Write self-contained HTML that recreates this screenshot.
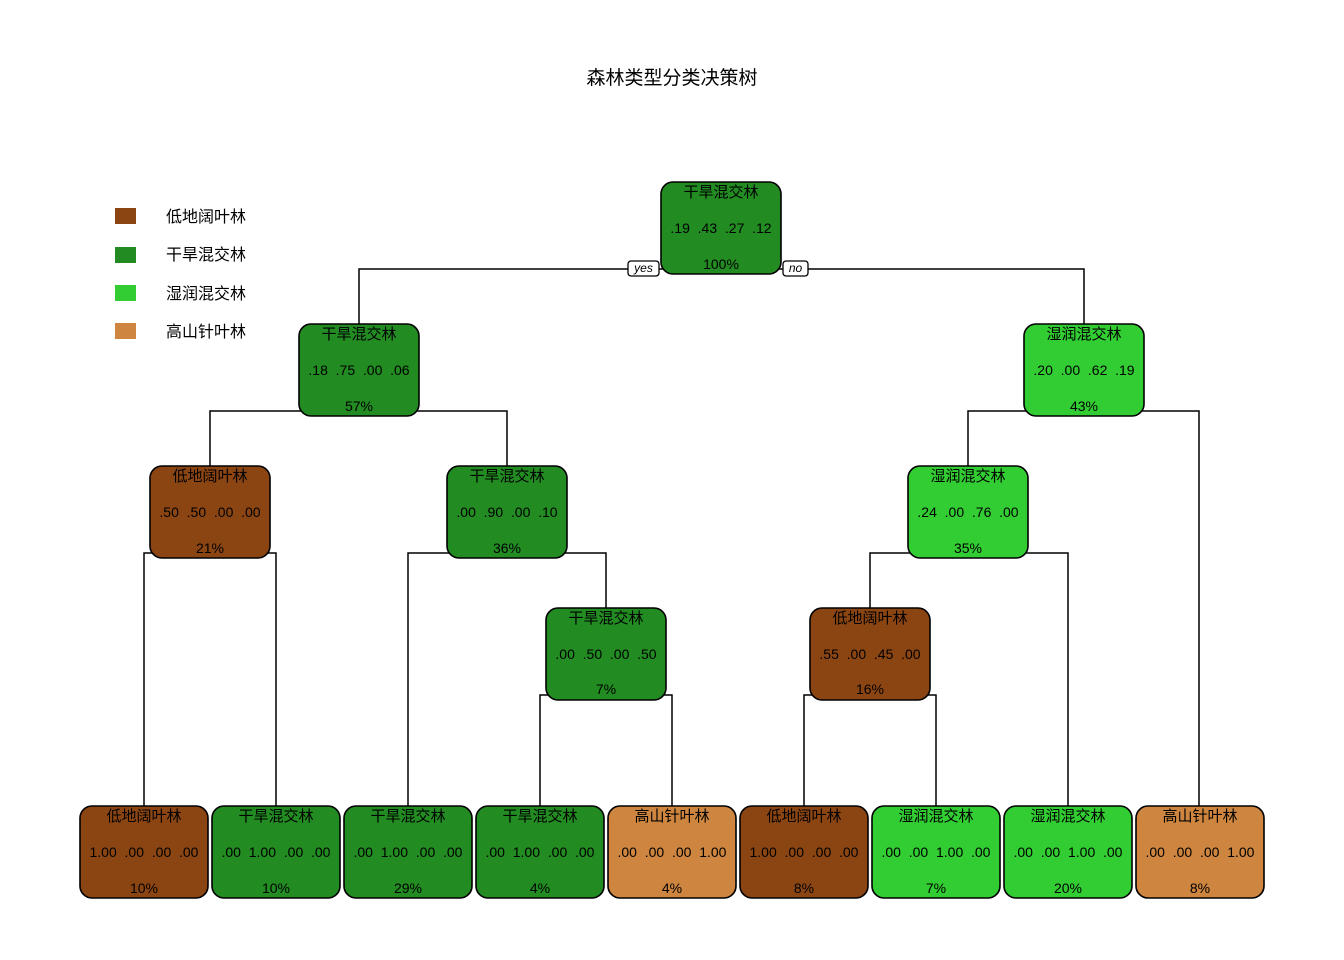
<!DOCTYPE html>
<html><head><meta charset="utf-8"><style>
html,body{margin:0;padding:0;background:#fff;}
svg{display:block;font-family:"Liberation Sans","Noto Sans CJK SC",sans-serif;}
svg text{white-space:pre;}
.n{stroke:#000;stroke-width:1.6;}
.t{font-size:14px;text-anchor:middle;fill:#000;}
.h{font-size:15px;}
.l{stroke:#000;stroke-width:1.5;fill:none;}
.lg{font-size:16px;}
</style></head><body>
<svg width="1344" height="960" viewBox="0 0 1344 960">
<text x="672" y="84" style="font-size:19px;text-anchor:middle">森林类型分类决策树</text>
<rect x="115" y="208" width="21" height="16" fill="#8B4513"/><text class="lg" x="166" y="222">低地阔叶林</text>
<rect x="115" y="247" width="21" height="16" fill="#228B22"/><text class="lg" x="166" y="260">干旱混交林</text>
<rect x="115" y="285" width="21" height="16" fill="#32CD32"/><text class="lg" x="166" y="299">湿润混交林</text>
<rect x="115" y="323" width="21" height="16" fill="#CD853F"/><text class="lg" x="166" y="337">高山针叶林</text>
<path class="l" d="M359 324V269H1084V324"/>
<path class="l" d="M210 466V411H507V466"/>
<path class="l" d="M968 466V411H1199V806"/>
<path class="l" d="M144 806V553H276V806"/>
<path class="l" d="M408 806V553H606V608"/>
<path class="l" d="M870 608V553H1068V806"/>
<path class="l" d="M540 806V695H672V806"/>
<path class="l" d="M804 806V695H936V806"/>
<g>
<rect class="n" x="661" y="182" width="120" height="92" rx="12" fill="#228B22"/>
<text class="t h" x="721" y="197">干旱混交林</text><text class="t" x="721" y="233">.19  .43  .27  .12</text><text class="t" x="721" y="269">100%</text>
<rect x="628" y="261" width="31" height="15" rx="3" fill="#fff" stroke="#000" stroke-width="1.3"/><text x="643.5" y="272" style="font-size:12px;font-style:italic;text-anchor:middle">yes</text>
<rect x="783" y="261" width="25" height="15" rx="3" fill="#fff" stroke="#000" stroke-width="1.3"/><text x="795.5" y="272" style="font-size:12px;font-style:italic;text-anchor:middle">no</text>
</g>
<rect class="n" x="299" y="324" width="120" height="92" rx="12" fill="#228B22"/>
<text class="t h" x="359" y="339">干旱混交林</text><text class="t" x="359" y="375">.18  .75  .00  .06</text><text class="t" x="359" y="411">57%</text>
<rect class="n" x="1024" y="324" width="120" height="92" rx="12" fill="#32CD32"/>
<text class="t h" x="1084" y="339">湿润混交林</text><text class="t" x="1084" y="375">.20  .00  .62  .19</text><text class="t" x="1084" y="411">43%</text>
<rect class="n" x="150" y="466" width="120" height="92" rx="12" fill="#8B4513"/>
<text class="t h" x="210" y="481">低地阔叶林</text><text class="t" x="210" y="517">.50  .50  .00  .00</text><text class="t" x="210" y="553">21%</text>
<rect class="n" x="447" y="466" width="120" height="92" rx="12" fill="#228B22"/>
<text class="t h" x="507" y="481">干旱混交林</text><text class="t" x="507" y="517">.00  .90  .00  .10</text><text class="t" x="507" y="553">36%</text>
<rect class="n" x="908" y="466" width="120" height="92" rx="12" fill="#32CD32"/>
<text class="t h" x="968" y="481">湿润混交林</text><text class="t" x="968" y="517">.24  .00  .76  .00</text><text class="t" x="968" y="553">35%</text>
<rect class="n" x="546" y="608" width="120" height="92" rx="12" fill="#228B22"/>
<text class="t h" x="606" y="623">干旱混交林</text><text class="t" x="606" y="659">.00  .50  .00  .50</text><text class="t" x="606" y="694">7%</text>
<rect class="n" x="810" y="608" width="120" height="92" rx="12" fill="#8B4513"/>
<text class="t h" x="870" y="623">低地阔叶林</text><text class="t" x="870" y="659">.55  .00  .45  .00</text><text class="t" x="870" y="694">16%</text>
<rect class="n" x="80" y="806" width="128" height="92" rx="12" fill="#8B4513"/>
<text class="t h" x="144" y="821">低地阔叶林</text><text class="t" x="144" y="857">1.00  .00  .00  .00</text><text class="t" x="144" y="893">10%</text>
<rect class="n" x="212" y="806" width="128" height="92" rx="12" fill="#228B22"/>
<text class="t h" x="276" y="821">干旱混交林</text><text class="t" x="276" y="857">.00  1.00  .00  .00</text><text class="t" x="276" y="893">10%</text>
<rect class="n" x="344" y="806" width="128" height="92" rx="12" fill="#228B22"/>
<text class="t h" x="408" y="821">干旱混交林</text><text class="t" x="408" y="857">.00  1.00  .00  .00</text><text class="t" x="408" y="893">29%</text>
<rect class="n" x="476" y="806" width="128" height="92" rx="12" fill="#228B22"/>
<text class="t h" x="540" y="821">干旱混交林</text><text class="t" x="540" y="857">.00  1.00  .00  .00</text><text class="t" x="540" y="893">4%</text>
<rect class="n" x="608" y="806" width="128" height="92" rx="12" fill="#CD853F"/>
<text class="t h" x="672" y="821">高山针叶林</text><text class="t" x="672" y="857">.00  .00  .00  1.00</text><text class="t" x="672" y="893">4%</text>
<rect class="n" x="740" y="806" width="128" height="92" rx="12" fill="#8B4513"/>
<text class="t h" x="804" y="821">低地阔叶林</text><text class="t" x="804" y="857">1.00  .00  .00  .00</text><text class="t" x="804" y="893">8%</text>
<rect class="n" x="872" y="806" width="128" height="92" rx="12" fill="#32CD32"/>
<text class="t h" x="936" y="821">湿润混交林</text><text class="t" x="936" y="857">.00  .00  1.00  .00</text><text class="t" x="936" y="893">7%</text>
<rect class="n" x="1004" y="806" width="128" height="92" rx="12" fill="#32CD32"/>
<text class="t h" x="1068" y="821">湿润混交林</text><text class="t" x="1068" y="857">.00  .00  1.00  .00</text><text class="t" x="1068" y="893">20%</text>
<rect class="n" x="1136" y="806" width="128" height="92" rx="12" fill="#CD853F"/>
<text class="t h" x="1200" y="821">高山针叶林</text><text class="t" x="1200" y="857">.00  .00  .00  1.00</text><text class="t" x="1200" y="893">8%</text>
</svg>
</body></html>
